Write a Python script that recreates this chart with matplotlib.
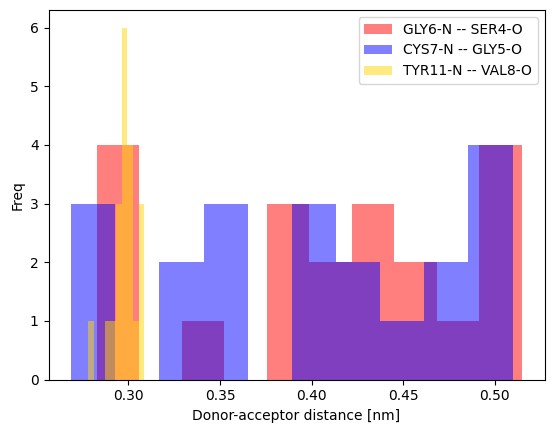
import numpy as np
import matplotlib
matplotlib.use("Agg")
import matplotlib.pyplot as plt

labels = ["GLY6-N -- SER4-O", "CYS7-N -- GLY5-O", "TYR11-N -- VAL8-O"]
colors = ["red", "blue", "gold"]

red_range = (0.2828, 0.5149)
red_counts = [4, 0, 1, 0, 3, 2, 3, 2, 1, 4]

blue_range = (0.2687, 0.5098)
blue_counts = [3, 0, 2, 3, 0, 3, 2, 1, 2, 4]

yellow_range = (0.2780, 0.3086)
yellow_counts = [1, 0, 0, 1, 1, 3, 6, 4, 1, 3]

fig = plt.figure(figsize=(5.54, 4.32), dpi=100)
ax = fig.add_axes([48.5 / 554, (432 - 379.5) / 432, 496 / 554, 369.5 / 432])

for rng, counts, col, lab in zip([red_range, blue_range, yellow_range],
                                 [red_counts, blue_counts, yellow_counts],
                                 colors, labels):
    edges = np.linspace(rng[0], rng[1], len(counts) + 1)
    centers = (edges[:-1] + edges[1:]) / 2
    ax.hist(centers, bins=edges, weights=counts, color=col, alpha=0.5, label=lab)

ax.set_xlabel("Donor-acceptor distance [nm]")
ax.set_ylabel("Freq")
ax.legend(loc="upper right")

fig.savefig("out.png", dpi=100)
